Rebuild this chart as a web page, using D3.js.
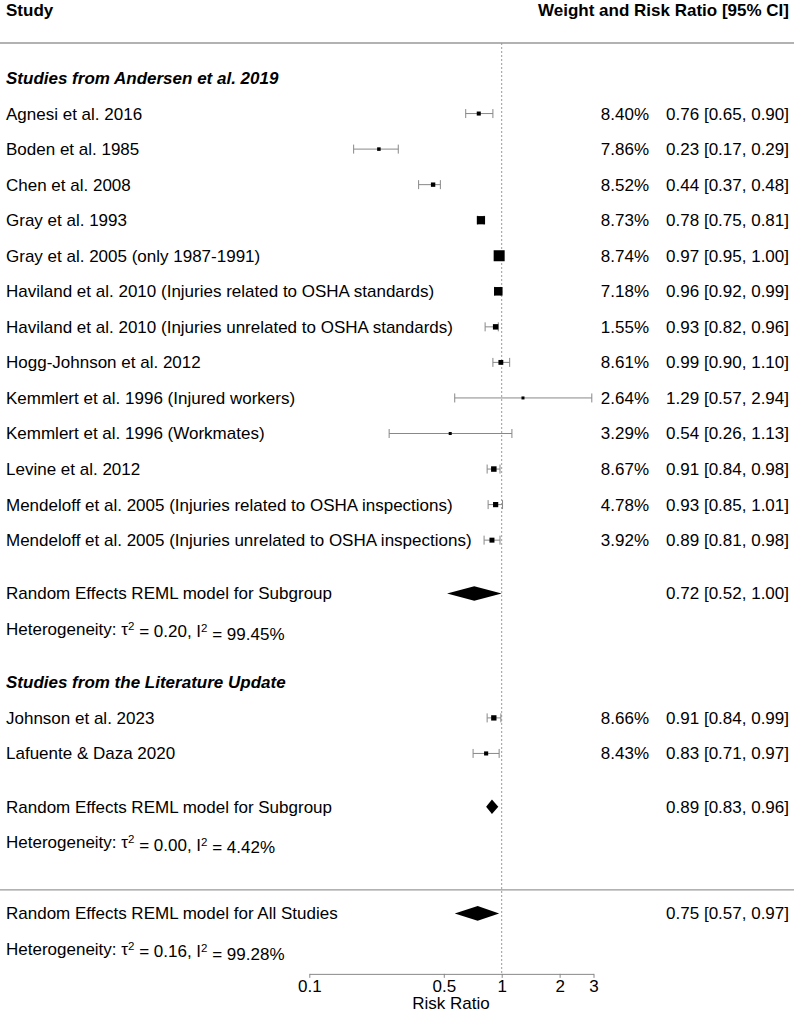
<!doctype html>
<html>
<head>
<meta charset="UTF-8">
<title>forest plot</title>
<script src="https://d3js.org/d3.v7.min.js"></script>
<style>
  body { margin: 0; background: #fff; }
  text { font-family: "Liberation Sans", Arial, sans-serif; fill: #000; }
</style>
</head>
<body>
<script>
// data
var groups = ["Studies from Andersen et al. 2019", "Studies from the Literature Update"];
var studies = [
  "Agnesi et al. 2016",
  "Boden et al. 1985",
  "Chen et al. 2008",
  "Gray et al. 1993",
  "Gray et al. 2005 (only 1987-1991)",
  "Haviland et al. 2010 (Injuries related to OSHA standards)",
  "Haviland et al. 2010 (Injuries unrelated to OSHA standards)",
  "Hogg-Johnson et al. 2012",
  "Kemmlert et al. 1996 (Injured workers)",
  "Kemmlert et al. 1996 (Workmates)",
  "Levine et al. 2012",
  "Mendeloff et al. 2005 (Injuries related to OSHA inspections)",
  "Mendeloff et al. 2005 (Injuries unrelated to OSHA inspections)",
  "Johnson et al. 2023",
  "Lafuente & Daza 2020"
];
var studyGroup = [0,0,0,0,0,0,0,0,0,0,0,0,0,1,1];
var weights = [8.40, 7.86, 8.52, 8.73, 8.74, 7.18, 1.55, 8.61, 2.64, 3.29, 8.67, 4.78, 3.92, 8.66, 8.43];
var rr    = [0.76, 0.23, 0.44, 0.78, 0.97, 0.96, 0.93, 0.99, 1.29, 0.54, 0.91, 0.93, 0.89, 0.91, 0.83];
var lower = [0.65, 0.17, 0.37, 0.75, 0.95, 0.92, 0.82, 0.90, 0.57, 0.26, 0.84, 0.85, 0.81, 0.84, 0.71];
var upper = [0.90, 0.29, 0.48, 0.81, 1.00, 0.99, 0.96, 1.10, 2.94, 1.13, 0.98, 1.01, 0.98, 0.99, 0.97];

var summaryLabels = ["Random Effects REML model for Subgroup", "Random Effects REML model for Subgroup", "Random Effects REML model for All Studies"];
var summaryRR    = [0.72, 0.89, 0.75];
var summaryLower = [0.52, 0.83, 0.57];
var summaryUpper = [1.00, 0.96, 0.97];
var tau2 = ["0.20", "0.00", "0.16"];
var i2   = ["99.45", "4.42", "99.28"];

var xTicks = [0.1, 0.5, 1, 2, 3];

var W = 794, H = 1014;
var svg = d3.select("body").append("svg").attr("width", W).attr("height", H);

// log scale for risk ratios, row scale for vertical position
var x = d3.scaleLog().domain([0.1, 3]).range([309.3, 593.5]);
var y = d3.scaleLinear().domain([0, 1]).range([78, 113.55]);

var prec = studies.map(function(d, i){ return 1 / (Math.log(upper[i]) - Math.log(lower[i])); });
var size = d3.scaleLinear().domain(d3.extent(prec)).range([3, 11]);

function fmt(v){ return d3.format(".2f")(v); }
function ciText(a, b, c){ return fmt(a) + " [" + fmt(b) + ", " + fmt(c) + "]"; }

// row layout
var studyRow = [], r = 1;
studies.forEach(function(d, i){
  if (i == 13) r = 18;
  studyRow.push(r); r++;
});
var groupRow = [0, 17];
var summaryRow = [14.5, 20.5, 23.5];

var fs = 17;

// header
svg.append("text").attr("x", 6).attr("y", 10).attr("dy", "0.35em")
  .style("font-weight", "bold").style("font-size", fs + "px").text("Study");
svg.append("text").attr("x", 789).attr("y", 10).attr("dy", "0.35em")
  .attr("text-anchor", "end").style("font-weight", "bold").style("font-size", fs + "px")
  .text("Weight and Risk Ratio [95% CI]");

svg.append("line").attr("x1", 0).attr("x2", W).attr("y1", 43).attr("y2", 43)
  .attr("stroke", "#999").attr("stroke-width", 1.3);
svg.append("line").attr("x1", 0).attr("x2", W).attr("y1", y(22.84)).attr("y2", y(22.84))
  .attr("stroke", "#999").attr("stroke-width", 1.3);

// reference line at RR = 1
svg.append("line").attr("x1", x(1)).attr("x2", x(1)).attr("y1", 43).attr("y2", y(25.2))
  .attr("stroke", "#999").attr("stroke-width", 1).attr("stroke-dasharray", "2,2");

// group headings
svg.selectAll("text.grp").data(groups).enter().append("text")
  .attr("class", "grp").attr("x", 6)
  .attr("y", function(d, i){ return y(groupRow[i]); }).attr("dy", "0.35em")
  .style("font-weight", "bold").style("font-style", "italic").style("font-size", fs + "px")
  .text(function(d){ return d; });

// study labels and numbers
var rows = svg.selectAll("g.study").data(studies).enter().append("g").attr("class", "study")
  .attr("transform", function(d, i){ return "translate(0," + y(studyRow[i]) + ")"; });

rows.append("text").attr("x", 6).attr("dy", "0.35em").style("font-size", fs + "px")
  .text(function(d){ return d; });
rows.append("text").attr("x", 649).attr("dy", "0.35em").attr("text-anchor", "end")
  .style("font-size", fs + "px").text(function(d, i){ return fmt(weights[i]) + "%"; });
rows.append("text").attr("x", 789).attr("dy", "0.35em").attr("text-anchor", "end")
  .style("font-size", fs + "px").text(function(d, i){ return ciText(rr[i], lower[i], upper[i]); });

// whiskers
rows.append("line").attr("x1", function(d, i){ return x(lower[i]); })
  .attr("x2", function(d, i){ return x(upper[i]); })
  .attr("stroke", "#888").attr("stroke-width", 1);
rows.append("line").attr("x1", function(d, i){ return x(lower[i]); })
  .attr("x2", function(d, i){ return x(lower[i]); })
  .attr("y1", -4.5).attr("y2", 4.5).attr("stroke", "#888").attr("stroke-width", 1);
rows.append("line").attr("x1", function(d, i){ return x(upper[i]); })
  .attr("x2", function(d, i){ return x(upper[i]); })
  .attr("y1", -4.5).attr("y2", 4.5).attr("stroke", "#888").attr("stroke-width", 1);
rows.append("rect")
  .attr("x", function(d, i){ return x(rr[i]) - size(prec[i]) / 2; })
  .attr("y", function(d, i){ return -size(prec[i]) / 2; })
  .attr("width", function(d, i){ return size(prec[i]); })
  .attr("height", function(d, i){ return size(prec[i]); })
  .attr("fill", "#000");

// summaries
var sums = svg.selectAll("g.sum").data(summaryLabels).enter().append("g").attr("class", "sum")
  .attr("transform", function(d, i){ return "translate(0," + y(summaryRow[i]) + ")"; });

sums.append("text").attr("x", 6).attr("dy", "0.35em").style("font-size", fs + "px")
  .text(function(d){ return d; });
sums.append("text").attr("x", 789).attr("dy", "0.35em").attr("text-anchor", "end")
  .style("font-size", fs + "px")
  .text(function(d, i){ return ciText(summaryRR[i], summaryLower[i], summaryUpper[i]); });
sums.append("path").attr("fill", "#000")
  .attr("d", function(d, i){
    var h = 7.3;
    return "M" + x(summaryLower[i]) + ",0L" + x(summaryRR[i]) + "," + (-h) +
      "L" + x(summaryUpper[i]) + ",0L" + x(summaryRR[i]) + "," + h + "Z";
  });

// heterogeneity lines
var het = svg.selectAll("text.het").data(tau2).enter().append("text").attr("class", "het")
  .attr("x", 6).attr("y", function(d, i){ return y(summaryRow[i] + 1); }).attr("dy", "0.35em")
  .style("font-size", fs + "px");
het.append("tspan").text("Heterogeneity: \u03c4");
het.append("tspan").attr("dy", "-0.45em").style("font-size", "11.5px").text("2");
het.append("tspan").attr("dy", "0.45em").text(function(d){ return " = " + d + ", I"; });
het.append("tspan").attr("dy", "-0.45em").style("font-size", "11.5px").text("2");
het.append("tspan").attr("dy", "0.45em").text(function(d, i){ return " = " + i2[i] + "%"; });

// axis
var axis = svg.append("g").attr("transform", "translate(0," + y(25.2) + ")")
  .call(d3.axisBottom(x).tickValues(xTicks).tickSize(4).tickSizeOuter(0)
    .tickFormat(function(d){ return d; }));
axis.select(".domain").attr("stroke", "#888");
axis.selectAll(".tick line").attr("stroke", "#888");
axis.selectAll(".tick text").style("font-size", fs + "px").attr("y", 6).attr("dy", "0.71em")
  .style("font-family", "'Liberation Sans', Arial, sans-serif").attr("fill", "#000");
svg.append("text").attr("x", 451).attr("y", 1003).attr("dy", "0.35em")
  .attr("text-anchor", "middle").style("font-size", fs + "px").text("Risk Ratio");
</script>
</body>
</html>
